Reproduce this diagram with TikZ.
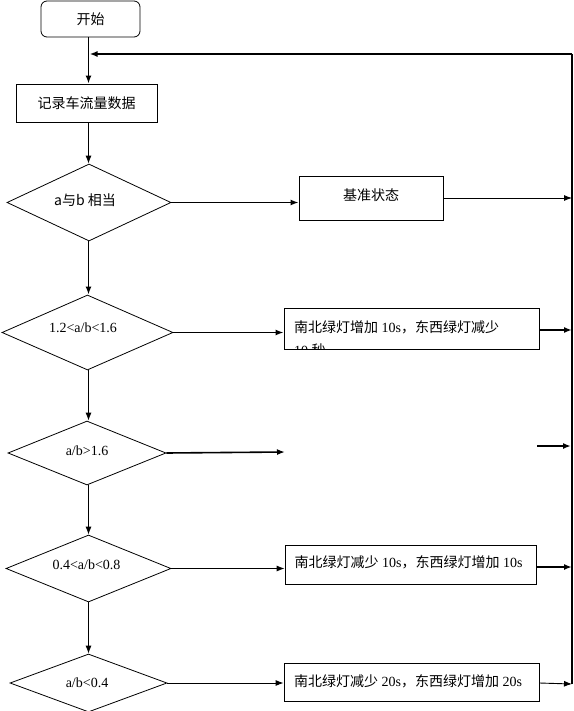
\documentclass[tikz,border=0pt]{standalone}
\usepackage{fontspec}
\setmainfont{Liberation Serif}
\newfontfamily\cjk{Noto Sans CJK SC}
\usetikzlibrary{shapes.geometric,arrows.meta}
\begin{document}
\begin{tikzpicture}[x=1pt,y=-1pt,
  every node/.style={font=\fontsize{14}{16}\selectfont},
  box/.style={draw,line width=0.8pt,inner sep=0pt},
  dia/.style={draw,diamond,line width=0.8pt,inner sep=0pt},
  txt/.style={inner sep=0pt},
  dtxt/.style={inner sep=0pt,font=\fontsize{14}{16}\selectfont},
  tip/.style={-{Latex[length=8pt,width=6pt]}},
  ln/.style={line width=0.9pt},
  thk/.style={line width=1.6pt}]
\useasboundingbox (0,0) rectangle (573,711);
% nodes
\node[box,rounded corners=6pt,minimum width=99pt,minimum height=36pt] (start) at (90.5,19) {};
\node[txt] (startt) at (90.5,19) {\cjk 开始};
\node[box,minimum width=141pt,minimum height=38pt] (rec) at (86.5,103) {};
\node[txt] (rect) at (86.5,103) {\cjk 记录车流量数据};

\node[dia,minimum width=164pt,minimum height=77pt] (d1) at (89,202.5) {};
\node[txt] (d1t) at (85,200) {\cjk a与b 相当};
\node[dia,minimum width=171pt,minimum height=75pt] (d2) at (87.5,332.5) {};
\node[dtxt] (d2t) at (83,328) {1.2<a/b<1.6};
\node[dia,minimum width=158pt,minimum height=64pt] (d3) at (87,453) {};
\node[dtxt] (d3t) at (87,451) {a/b>1.6};
\node[dia,minimum width=165pt,minimum height=67pt] (d4) at (88.5,568.5) {};
\node[dtxt] (d4t) at (86.5,565) {0.4<a/b<0.8};
\node[dia,minimum width=157pt,minimum height=58pt] (d5) at (88.5,683) {};
\node[dtxt] (d5t) at (87,683) {a/b<0.4};

\node[box,minimum width=144pt,minimum height=44pt] (b1) at (371,198) {};
\node[txt] (b1t) at (371,195) {\cjk 基准状态};
\node[box,minimum width=255pt,minimum height=41pt] (b2) at (411.5,328.5) {};
\node[txt,anchor=base west] (b2t) at (294,332) {{\cjk 南北绿灯增加} 10s{\cjk ，东西绿灯减少}};
\begin{scope}
  \clip ([shift={(0.5pt,0.5pt)}]b2.south west) rectangle ([shift={(-0.5pt,-0.5pt)}]b2.north east);
  \node[txt,anchor=base west] (b2u) at (294,355) {10 {\cjk 秒}};
\end{scope}
\node[box,minimum width=251pt,minimum height=39pt] (b4) at (410.5,564.5) {};
\node[txt] (b4t) at (408.5,562) {{\cjk 南北绿灯减少} 10s{\cjk ，东西绿灯增加} 10s};
\node[box,minimum width=255pt,minimum height=38pt] (b5) at (411.5,682) {};
\node[txt] (b5t) at (408,681) {{\cjk 南北绿灯减少} 20s{\cjk ，东西绿灯增加} 20s};

% coordinates
\coordinate (sp) at (88.5,0);
\coordinate (fbR) at (572,54);
\coordinate (fbL) at (89.5,54);
\coordinate (rbot) at (572,684);
\coordinate (d3end) at (285,452);
\coordinate (fa1) at (537,446);
\coordinate (fa2) at (571,446);
\coordinate (rx) at (572,0);

% connectors
\draw[thk,tip] (start.south -| sp) -- (rec.north -| sp);
\draw[thk] (fbR) -- (rbot);
\draw[thk,tip] (fbR) -- (fbL);
\draw[ln,tip] (rec.south -| sp) -- (d1.north -| sp);
\draw[thk,tip] (d1.south -| sp) -- (d2.north -| sp);
\draw[ln,tip] (d2.south -| sp) -- (d3.north -| sp);
\draw[ln,tip] (d3.south -| sp) -- (d4.north -| sp);
\draw[ln,tip] (d4.south -| sp) -- (d5.north -| sp);

\draw[thk,tip] (d1.east) -- (d1.east -| b1.west);
\draw[ln,tip] (b1.east) -- (b1.east -| rx);
\draw[thk,tip] (d2.east) -- (d2.east -| b2.west);
\draw[thk,tip] ([yshift=-1.5pt]b2.east) -- ([yshift=-1.5pt]b2.east -| rx);
\draw[thk,tip] (d3.east) -- (d3end);
\draw[thk,tip] (fa1) -- (fa2);
\draw[ln,tip] (d4.east) -- (d4.east -| b4.west);
\draw[thk,tip] ([yshift=-2.5pt]b4.east) -- ([yshift=-2.5pt]b4.east -| rx);
\draw[ln,tip] (d5.east) -- (d5.east -| b5.west);
\draw[ln,tip] (d5.east -| b5.east) -- (rbot);
\end{tikzpicture}
\end{document}
